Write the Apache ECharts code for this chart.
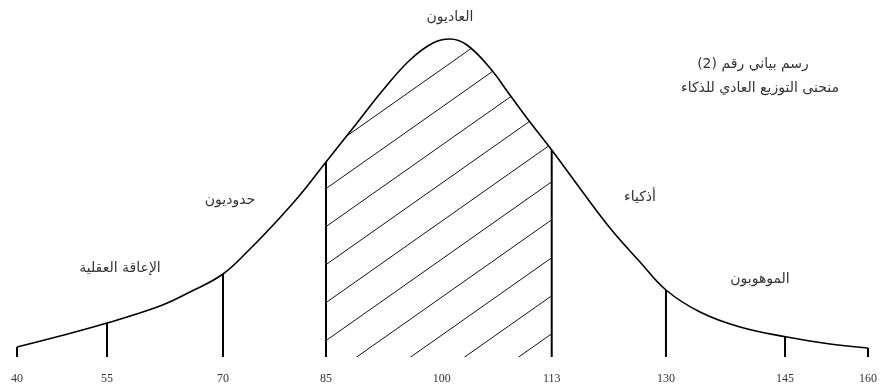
<!DOCTYPE html>
<html>
<head>
<meta charset="utf-8">
<script src="https://cdn.jsdelivr.net/npm/echarts@6/dist/echarts.min.js"></script>
<style>
  html, body { margin: 0; padding: 0; background: #fff; }
  #chart { width: 886px; height: 389px; }
</style>
</head>
<body>
<div id="chart"></div>
<script>
// curve (x in IQ units of the drawn axis, h = height above baseline)
var curveX = [40, 46.06, 52.69, 60.16, 64.39, 69.05, 72.85, 76.38, 79.9, 83.57, 87.94, 91.61,
              95.41, 98.66, 101.05, 103.45, 106.69, 109.51, 112.33, 115.4, 119.35, 123.62,
              127.85, 131.51, 136.31, 141.95, 148.57, 154.64, 160];
var curveH = [10, 21, 34, 51, 65, 83, 108, 134, 162, 195, 234, 267,
              297, 314, 318, 312, 289, 262, 235, 207, 169, 129,
              95, 67, 45, 30, 20, 13, 9];

// tick labels and where they sit on the drawn axis
var tickText = ['40', '55', '70', '85', '100', '113', '130', '145', '160'];
var tickAt = [40, 52.69, 69.05, 83.57, 99.9, 115.4, 131.51, 148.3, 160];

// vertical dividers (no line at 100)
var dividerX = [40, 52.69, 69.05, 83.57, 115.4, 131.51, 148.3, 160];
var dividerH = [10, 34, 83, 195, 207, 67, 20, 9];

// shaded band
var bandFrom = 83.57;
var bandTo = 115.4;

var groupNames = ['الإعاقة العقلية', 'حدوديون', 'العاديون', 'أذكياء', 'الموهوبون'];
var captionLines = ['رسم بياني رقم (2)', 'منحنى التوزيع العادي للذكاء'];

var curve = curveX.map(function (x, i) { return [x, curveH[i]]; });
var band = curve.filter(function (p) { return p[0] >= bandFrom && p[0] <= bandTo; });
var dividers = dividerX.map(function (x, i) { return [x, dividerH[i]]; });

var arabicFont = 'DejaVu Sans';
var textColor = '#333';

// diagonal hatch tile, lines rising to the right
function hatchTile(w, h) {
    var c = document.createElement('canvas');
    c.width = w;
    c.height = h;
    var g = c.getContext('2d');
    g.strokeStyle = '#111';
    g.lineWidth = 1;
    for (var k = -1; k <= 1; k++) {
        g.beginPath();
        g.moveTo(0, h + k * h);
        g.lineTo(w, k * h);
        g.stroke();
    }
    return c;
}

function label(text, x, y) {
    return {
        type: 'text', x: x, y: y,
        style: {
            text: text, fill: textColor, font: '14px "' + arabicFont + '"',
            align: 'center', verticalAlign: 'middle'
        }
    };
}

var chart = echarts.init(document.getElementById('chart'));
chart.setOption({
    backgroundColor: '#fff',
    animation: false,
    grid: { left: 17, right: 18, top: 37, bottom: 32 },
    xAxis: {
        type: 'value', min: 40, max: 160,
        splitLine: { show: false },
        axisLine: { show: false },
        axisTick: { show: false },
        axisLabel: {
            customValues: tickAt,
            margin: 16,
            color: textColor,
            fontFamily: 'Liberation Serif',
            fontSize: 12,
            formatter: function (v) {
                var i = tickAt.indexOf(v);
                return i < 0 ? '' : tickText[i];
            }
        }
    },
    yAxis: { type: 'value', min: 0, max: 320, show: false },
    series: [
        {
            type: 'line', data: band, smooth: 0.4, symbol: 'none', silent: true,
            lineStyle: { width: 0, opacity: 0 },
            areaStyle: {
                color: { image: hatchTile(54, 38), repeat: 'repeat' },
                opacity: 1
            }
        },
        {
            type: 'line', data: curve, smooth: 0.4, symbol: 'none',
            lineStyle: { color: '#000', width: 1.6 }
        },
        {
            type: 'bar', data: dividers, barWidth: 2, clip: false,
            itemStyle: { color: '#000' }
        }
    ],
    graphic: [
        label(groupNames[0], 120, 268),
        label(groupNames[1], 230, 200),
        label(groupNames[2], 450, 17),
        label(groupNames[3], 640, 197),
        label(groupNames[4], 760, 279),
        label(captionLines[0], 753, 64),
        label(captionLines[1], 760, 88)
    ]
});
</script>
</body>
</html>
